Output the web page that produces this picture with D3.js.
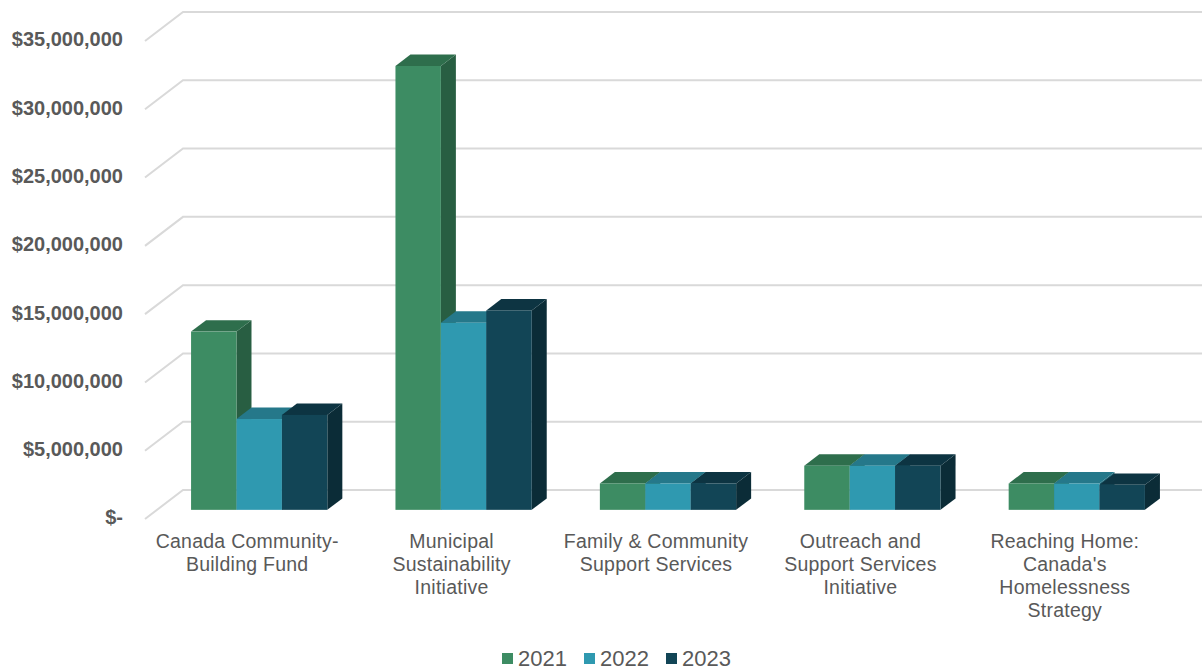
<!DOCTYPE html>
<html lang="en">
<head>
    <meta charset="UTF-8">
    <title>Funding by program</title>
    <script src="https://d3js.org/d3.v7.min.js"></script>
    <style>
        html, body { margin: 0; padding: 0; background: #fff; }
        svg { display: block; font-family: "Liberation Sans", Arial, sans-serif; }
        .tick text { fill: #595959; font-size: 20px; font-weight: bold; }
        .cat-label { fill: #595959; font-size: 19.5px; letter-spacing: 0.25px; }
        .legend-label { fill: #595959; font-size: 22px; }
    </style>
</head>
<body>
    <div id="chart"></div>
    <script>
        const categories = [
            ["Canada Community-", "Building Fund"],
            ["Municipal", "Sustainability", "Initiative"],
            ["Family & Community", "Support Services"],
            ["Outreach and", "Support Services", "Initiative"],
            ["Reaching Home:", "Canada's", "Homelessness", "Strategy"]
        ];
        const years = ["2021", "2022", "2023"];
        const values2021 = [13050000, 32500000, 1930000, 3230000, 1930000];
        const values2022 = [6650000, 13700000, 1930000, 3230000, 1930000];
        const values2023 = [6950000, 14600000, 1930000, 3230000, 1830000];
        const yTicks = [0, 5000000, 10000000, 15000000, 20000000, 25000000, 30000000, 35000000];

        const width = 1202, height = 671;

        const frontColors = ["#3d8c63", "#2f99b0", "#124556"];
        const topColors = ["#2e6e4c", "#25788a", "#0d3442"];
        const sideColors = ["#285e42", "#206575", "#0b2c37"];

        // oblique offset of the 3d box: floor runs 38px right and 29px up
        const depthX = 38, depthY = 29;
        const barStart = 12 / 38, barDepth = 15 / 38;

        const svg = d3.select("#chart").append("svg")
            .attr("width", width)
            .attr("height", height);

        const x = d3.scaleBand()
            .domain(d3.range(categories.length))
            .range([145, 1167]);

        const y = d3.scaleLinear()
            .domain([0, 35000000])
            .range([519, 41]);

        // inner band for the three bars, 1.5 bar widths of gap per category
        const x1 = d3.scaleBand()
            .domain(d3.range(years.length))
            .range([0, x.bandwidth()])
            .paddingInner(0)
            .paddingOuter(0.75);

        // back wall lines + slanted side wall lines
        svg.append("g").selectAll("path")
            .data(yTicks)
            .enter().append("path")
            .attr("d", d => `M145,${y(d)}L${145 + depthX},${y(d) - depthY}L${width},${y(d) - depthY}`)
            .attr("fill", "none")
            .attr("stroke", "#d9d9d9")
            .attr("stroke-width", 2);

        const yAxis = d3.axisLeft(y)
            .tickValues(yTicks)
            .tickSize(0)
            .tickPadding(22)
            .tickFormat(d => d === 0 ? "$-" : d3.format("$,")(d));

        svg.append("g")
            .attr("transform", "translate(145,-1.5)")
            .call(yAxis)
            .call(g => g.select(".domain").remove());

        const series = [values2021, values2022, values2023];
        const bars = [];
        categories.forEach((c, i) => {
            series.forEach((vals, s) => {
                bars.push({ cat: i, s: s, value: vals[i] });
            });
        });

        const pts = p => p.map(q => q.join(",")).join(" ");

        const bar = svg.append("g").selectAll("g")
            .data(bars)
            .enter().append("g")
            .each(function (d) {
                const g = d3.select(this);
                const dx0 = depthX * barStart, dy0 = depthY * barStart;
                const dx1 = depthX * barDepth, dy1 = depthY * barDepth;
                const xl = x(d.cat) + x1(d.s) + dx0;
                const xr = xl + x1.bandwidth();
                const yb = y(0) - dy0;
                const yt = y(d.value) - dy0;

                g.append("polygon")
                    .attr("points", pts([[xr, yt], [xr + dx1, yt - dy1], [xr + dx1, yb - dy1], [xr, yb]]))
                    .attr("fill", sideColors[d.s]);
                g.append("polygon")
                    .attr("points", pts([[xl, yt], [xl + dx1, yt - dy1], [xr + dx1, yt - dy1], [xr, yt]]))
                    .attr("fill", topColors[d.s]);
                g.append("rect")
                    .attr("x", xl)
                    .attr("y", yt)
                    .attr("width", x1.bandwidth())
                    .attr("height", yb - yt)
                    .attr("fill", frontColors[d.s]);
            });

        // category labels
        const catLabel = svg.append("g").selectAll("text")
            .data(categories)
            .enter().append("text")
            .attr("class", "cat-label")
            .attr("text-anchor", "middle")
            .attr("y", 548);

        catLabel.selectAll("tspan")
            .data((d, i) => d.map(t => ({ t: t, i: i })))
            .enter().append("tspan")
            .attr("x", d => x(d.i) + x.bandwidth() / 2)
            .attr("dy", (d, k) => k === 0 ? 0 : 23)
            .text(d => d.t);

        // legend
        const legendX = d3.scalePoint().domain(years).range([502, 666]);
        const legend = svg.append("g").selectAll("g")
            .data(years)
            .enter().append("g")
            .attr("transform", d => `translate(${legendX(d)},653)`);

        legend.append("rect")
            .attr("width", 11)
            .attr("height", 11)
            .attr("fill", (d, i) => frontColors[i]);

        legend.append("text")
            .attr("class", "legend-label")
            .attr("x", 16)
            .attr("y", 13)
            .text(d => d);
    </script>
</body>
</html>
